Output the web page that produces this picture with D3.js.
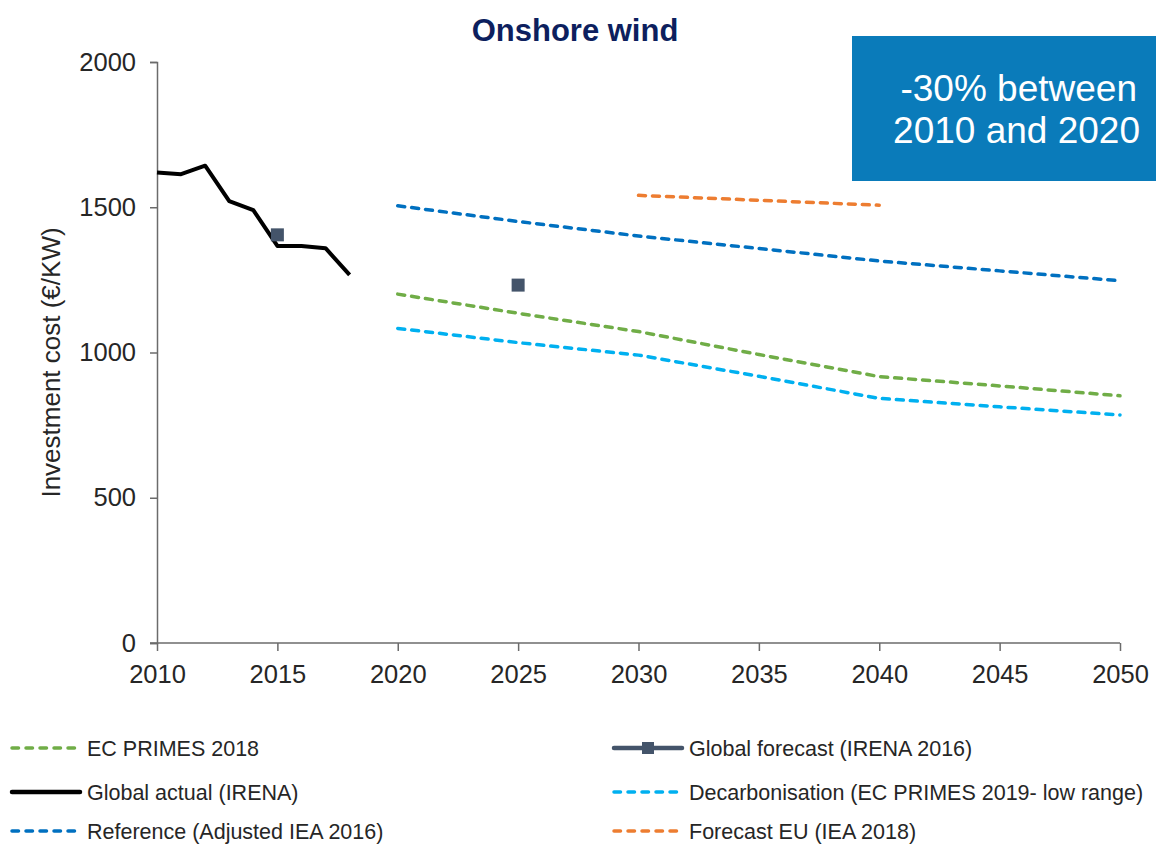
<!DOCTYPE html>
<html>
<head>
<meta charset="utf-8">
<script src="https://cdn.jsdelivr.net/npm/d3@7"></script>
<style>
  body { margin: 0; background: #fff; }
  svg { display: block; font-family: Arial, "Liberation Sans", sans-serif; }
</style>
</head>
<body>
<svg class="chart"></svg>
<script>
var margin = { top: 62, right: 36, bottom: 203, left: 157 };
var width = 1156 - margin.left - margin.right;
var height = 846 - margin.top - margin.bottom;

// data
var actualYears = [2010, 2011, 2012, 2013, 2014, 2015, 2016, 2017, 2018];
var actualValues = [1620, 1614, 1643, 1521, 1490, 1367, 1367, 1359, 1267];
var forecastYears = [2015, 2025];
var forecastValues = [1405, 1232];
var scenarioYears = [2020, 2025, 2030, 2035, 2040, 2045, 2050];
var primesValues = [1201, 1135, 1072, 993, 917, 885, 851];
var decarbValues = [1083, 1034, 991, 918, 842, 813, 785];
var referenceValues = [1505, 1451, 1401, 1358, 1315, 1281, 1247];
var euYears = [2030, 2040];
var euValues = [1541, 1507];
var xTicks = [2010, 2015, 2020, 2025, 2030, 2035, 2040, 2045, 2050];
var yTicks = [0, 500, 1000, 1500, 2000];

var chart = d3.select(".chart")
    .attr("width", 1156)
    .attr("height", 846);

var x = d3.scaleLinear().domain([2010, 2050]).range([0, width]);
var y = d3.scaleLinear().domain([0, 2000]).range([height, 0]);

var g = chart.append("g")
    .attr("transform", "translate(" + margin.left + "," + margin.top + ")");

var axisColor = "#6b6b6b";
var textColor = "#262626";

// y axis
var yAxis = g.append("g")
    .call(d3.axisLeft(y).tickValues(yTicks).tickSize(7).tickPadding(14).tickFormat(d3.format("d")));
yAxis.select(".domain").attr("stroke", axisColor).attr("stroke-width", 1.5);
yAxis.selectAll(".tick line").attr("stroke", axisColor).attr("stroke-width", 1.5);
yAxis.selectAll(".tick text").attr("fill", textColor).style("font-size", "25.5px");

// x axis
var xAxis = g.append("g")
    .attr("transform", "translate(0," + height + ")")
    .call(d3.axisBottom(x).tickValues(xTicks).tickSize(8).tickPadding(14).tickFormat(d3.format("d")));
xAxis.select(".domain").attr("stroke", axisColor).attr("stroke-width", 1.5)
    .attr("d", "M-7,0H" + width);
xAxis.selectAll(".tick line").attr("stroke", axisColor).attr("stroke-width", 1.5);
xAxis.selectAll(".tick text").attr("fill", textColor).style("font-size", "25.5px");

// y axis title
chart.append("text")
    .attr("transform", "translate(60," + (margin.top + height / 2 + 10) + ") rotate(-90)")
    .attr("text-anchor", "middle")
    .attr("fill", textColor)
    .style("font-size", "26px")
    .text("Investment cost (€/KW)");

// title
chart.append("text")
    .attr("x", 575)
    .attr("y", 41)
    .attr("text-anchor", "middle")
    .attr("fill", "#0d1f5e")
    .style("font-size", "31px")
    .style("font-weight", "bold")
    .text("Onshore wind");

var line = d3.line()
    .x(function(d) { return x(d[0]); })
    .y(function(d) { return y(d[1]); });

function pairs(xs, vs) {
    return xs.map(function(d, i) { return [d, vs[i]]; });
}

var dash = "7,7";
var series = [
    { name: "Reference (Adjusted IEA 2016)", color: "#0070c0", years: scenarioYears, values: referenceValues },
    { name: "EC PRIMES 2018", color: "#70ad47", years: scenarioYears, values: primesValues },
    { name: "Decarbonisation (EC PRIMES 2019- low range)", color: "#00b0f0", years: scenarioYears, values: decarbValues },
    { name: "Forecast EU (IEA 2018)", color: "#ed7d31", years: euYears, values: euValues }
];

g.selectAll("path.scen")
    .data(series)
    .enter()
    .append("path")
    .attr("class", "scen")
    .attr("fill", "none")
    .attr("stroke", function(d) { return d.color; })
    .attr("stroke-width", 3.5)
    .attr("stroke-dasharray", dash)
    .attr("stroke-linecap", "round")
    .attr("d", function(d) { return line(pairs(d.years, d.values)); });

// actual
g.append("path")
    .attr("fill", "none")
    .attr("stroke", "#000")
    .attr("stroke-width", 4)
    .attr("stroke-linejoin", "round")
    .attr("d", line(pairs(actualYears, actualValues)));

// global forecast markers
var sq = 13;
g.selectAll("rect.fc")
    .data(pairs(forecastYears, forecastValues))
    .enter()
    .append("rect")
    .attr("class", "fc")
    .attr("x", function(d) { return x(d[0]) - sq / 2; })
    .attr("y", function(d) { return y(d[1]) - sq / 2; })
    .attr("width", sq)
    .attr("height", sq)
    .attr("fill", "#44546a");

// annotation box
chart.append("rect")
    .attr("x", 852)
    .attr("y", 36)
    .attr("width", 304)
    .attr("height", 145)
    .attr("fill", "#0a7bba");

chart.append("text")
    .attr("x", 1137)
    .attr("y", 101)
    .attr("text-anchor", "end")
    .attr("fill", "#fff")
    .style("font-size", "37px")
    .text("-30% between");

chart.append("text")
    .attr("x", 1140)
    .attr("y", 143)
    .attr("text-anchor", "end")
    .attr("fill", "#fff")
    .style("font-size", "37px")
    .text("2010 and 2020");

// legend
var legendItems = [
    { name: "EC PRIMES 2018", color: "#70ad47", type: "dash", col: 0, row: 0 },
    { name: "Global forecast (IRENA 2016)", color: "#44546a", type: "marker", col: 1, row: 0 },
    { name: "Global actual (IRENA)", color: "#000", type: "solid", col: 0, row: 1 },
    { name: "Decarbonisation (EC PRIMES 2019- low range)", color: "#00b0f0", type: "dash", col: 1, row: 1 },
    { name: "Reference (Adjusted IEA 2016)", color: "#0070c0", type: "dash", col: 0, row: 2 },
    { name: "Forecast EU (IEA 2018)", color: "#ed7d31", type: "dash", col: 1, row: 2 }
];
var legendCols = [10, 612];
var legendRows = [748, 792, 831];

var lg = chart.selectAll("g.legend")
    .data(legendItems)
    .enter()
    .append("g")
    .attr("class", "legend")
    .attr("transform", function(d) { return "translate(" + legendCols[d.col] + "," + legendRows[d.row] + ")"; });

lg.append("line")
    .attr("x1", 2)
    .attr("x2", 70)
    .attr("stroke", function(d) { return d.color; })
    .attr("stroke-width", function(d) { return d.type == "dash" ? 3.5 : 4.5; })
    .attr("stroke-linecap", "round")
    .attr("stroke-dasharray", function(d) { return d.type == "dash" ? "6.5,7.5" : null; });

lg.filter(function(d) { return d.type == "marker"; })
    .append("rect")
    .attr("x", 30)
    .attr("y", -6)
    .attr("width", 12)
    .attr("height", 12)
    .attr("fill", function(d) { return d.color; });

lg.append("text")
    .attr("x", 77)
    .attr("y", 7.5)
    .attr("fill", textColor)
    .style("font-size", "21.5px")
    .text(function(d) { return d.name; });
</script>
</body>
</html>
